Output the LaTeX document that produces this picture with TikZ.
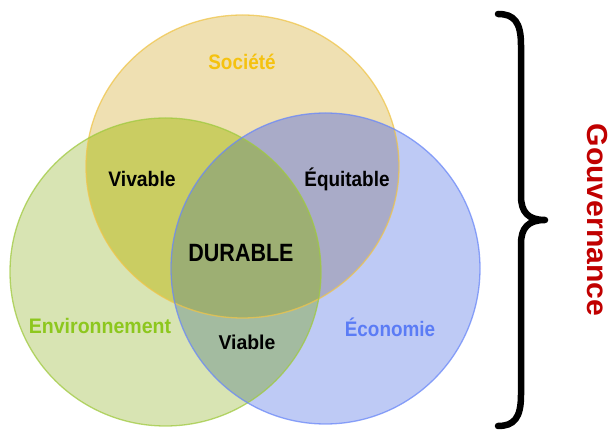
\documentclass[tikz,border=0pt]{standalone}
\usepackage{fontspec}
\setmainfont{Liberation Sans}
\definecolor{cS}{HTML}{EFE0B2}
\definecolor{cE}{HTML}{D8E4B3}
\definecolor{cC}{HTML}{BECAF5}
\definecolor{cSE}{HTML}{CACD62}
\definecolor{cSC}{HTML}{A9ABC8}
\definecolor{cEC}{HTML}{A3BBA0}
\definecolor{cSEC}{HTML}{9DAF73}
\definecolor{bS}{HTML}{F0C54A}
\definecolor{bE}{HTML}{A0CA40}
\definecolor{bC}{HTML}{6A88F8}
\definecolor{tS}{HTML}{F5C20F}
\definecolor{tE}{HTML}{8DC71E}
\definecolor{tC}{HTML}{5B7CF5}
\definecolor{tG}{HTML}{C00000}
\tikzset{
  lbl/.style={font=\bfseries\fontsize{21}{21}\selectfont, inner sep=0pt},
  rim/.style={line width=1.3pt, draw opacity=0.75},
}
\newcommand{\sq}[2][0.88]{\scalebox{#1}[1]{#2}}
\begin{document}
\begin{tikzpicture}[x=1pt,y=-1pt]
\useasboundingbox (0,0) rectangle (614,430);
\def\Spath{(242.5,166.5) ellipse [x radius=156.5, y radius=151.5]}
\def\Epath{(165.5,272) ellipse [x radius=155.5, y radius=154]}
\def\Cpath{(325.5,268.5) ellipse [x radius=154.5, y radius=155.5]}
% base fills
\fill[cS] \Spath;
\fill[cE] \Epath;
\fill[cC] \Cpath;
% pairwise
\begin{scope}\clip \Spath; \fill[cSE] \Epath; \end{scope}
\begin{scope}\clip \Spath; \fill[cSC] \Cpath; \end{scope}
\begin{scope}\clip \Epath; \fill[cEC] \Cpath; \end{scope}
\begin{scope}\clip \Spath; \clip \Epath; \fill[cSEC] \Cpath; \end{scope}
% rims
\draw[rim, bS] \Spath;
\draw[rim, bE] \Epath;
\draw[rim, bC] \Cpath;
% labels
\node[lbl, text=tS] (soc) at (242,62) {\sq[0.9]{Société}};
\node[lbl] (viv) at (142,179) {\sq[0.92]{Vivable}};
\node[lbl] (equ) at (347,179) {\sq[0.9]{Équitable}};
\node[lbl, font=\bfseries\fontsize{25}{25}\selectfont] (dur) at (241,253) {\sq[0.86]{DURABLE}};
\node[lbl, text=tE] (env) at (100,326) {\sq[0.93]{Environnement}};
\node[lbl, font=\bfseries\fontsize{20}{20}\selectfont] (via) at (247,342) {\sq[0.97]{Viable}};
\node[lbl, text=tC] (eco) at (390,327) {\sq[0.9]{Économie}};
% brace
\draw[line width=6.5pt, line cap=round, line join=round]
  (498,14) .. controls (514,14) and (521,22) .. (521,45)
  -- (521,196) .. controls (521,212) and (528,220) .. (545,220)
  .. controls (528,220) and (521,228) .. (521,244)
  -- (521,395) .. controls (521,418) and (514,426) .. (498,426);
\node[lbl, text=tG, rotate=-90, font=\bfseries\fontsize{29}{29}\selectfont] (gov) at (597,220) {\sq[1.04]{Gouvernance}};
\end{tikzpicture}
\end{document}
